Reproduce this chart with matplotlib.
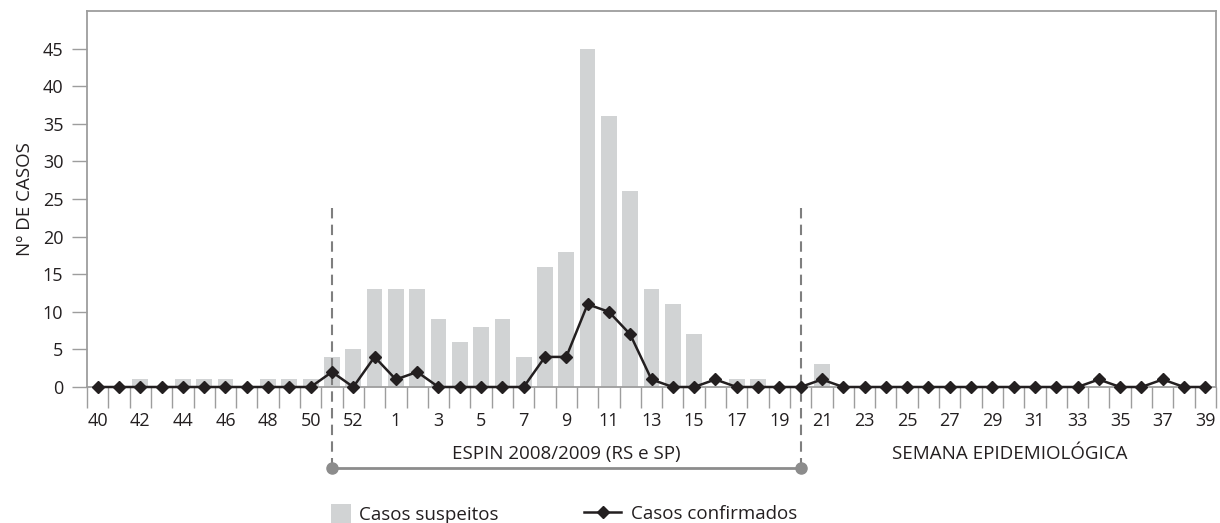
import numpy as np
import matplotlib
matplotlib.use("Agg")
import matplotlib.pyplot as plt
from matplotlib.patches import Patch
from matplotlib.lines import Line2D

plt.rcParams['font.family'] = ['Open Sans', 'DejaVu Sans']

# epidemiological weeks 40/2008 .. 39/2009 (2008 had 53 weeks)
weeks = list(range(40, 54)) + list(range(1, 40))
suspeitos = [0, 0, 1, 0, 1, 1, 1, 0, 1, 1, 1, 4, 5, 13,            # 40-53
             13, 13, 9, 6, 8, 9, 4, 16, 18, 45,                    # 1-10
             36, 26, 13, 11, 7, 0, 1, 1, 0, 0,                     # 11-20
             3, 0, 0, 0, 0, 0, 0, 0, 0, 0,                         # 21-30
             0, 0, 0, 0, 0, 0, 0, 0, 0]                            # 31-39
confirmados = [0, 0, 0, 0, 0, 0, 0, 0, 0, 0, 0, 2, 0, 4,           # 40-53
               1, 2, 0, 0, 0, 0, 0, 4, 4, 11,                      # 1-10
               10, 7, 1, 0, 0, 1, 0, 0, 0, 0,                      # 11-20
               1, 0, 0, 0, 0, 0, 0, 0, 0, 0,                       # 21-30
               0, 0, 0, 1, 0, 0, 1, 0, 0]                          # 31-39
tick_labels = [str(w) for w in weeks]

espin_label = "ESPIN 2008/2009 (RS e SP)"
espin_start = 11   # week 51/2008
espin_end = 33     # week 20/2009

dark = '#231f20'
grey_axis = '#9d9d9d'
bar_col = '#d1d3d4'

fig = plt.figure(figsize=(12.2, 5.23), dpi=100)
ax = fig.add_axes([87/1220, 1 - 387/523, 1129/1220, 376/523])

x = np.arange(len(weeks))
ax.bar(x, suspeitos, width=0.74, color=bar_col, zorder=1)
ax.plot(x, confirmados, color=dark, lw=1.8, marker='D', markersize=6.5,
        markeredgecolor=dark, zorder=4, clip_on=False)

ax.set_xlim(-0.5, len(weeks) - 0.5)
ax.set_ylim(0, 50)
ax.set_yticks(np.arange(0, 50, 5))
ax.tick_params(axis='y', length=11, width=1, color=grey_axis, labelsize=13,
               labelcolor=dark, pad=6)
ax.set_xticks(x[::2])
ax.set_xticklabels(tick_labels[::2])
ax.set_xticks(np.arange(-0.5, len(weeks)), minor=True)
ax.tick_params(axis='x', which='major', length=0, pad=18, labelsize=13, labelcolor=dark)
ax.tick_params(axis='x', which='minor', length=15, width=1, color=grey_axis)
for s in ax.spines.values():
    s.set_color(grey_axis)
    s.set_linewidth(1.3)

ax.set_ylabel("Nº DE CASOS", fontsize=13.5, color=dark, labelpad=6)

# ESPIN period markers
bracket_y = -10.8
for xi in (espin_start, espin_end):
    ax.plot([xi, xi], [23.8, bracket_y], color='#7f7f7f', lw=1.5, ls=(0, (5, 3)),
            clip_on=False, zorder=3)
ax.plot([espin_start, espin_end], [bracket_y, bracket_y], color='#8c8c8c', lw=2,
        clip_on=False, zorder=3)
ax.plot([espin_start, espin_end], [bracket_y, bracket_y], ls='none', marker='o',
        markersize=8, color='#8c8c8c', clip_on=False, zorder=3)
ax.text((espin_start + espin_end) / 2, -8.9, espin_label, ha='center', va='center',
        fontsize=13.5, color=dark, clip_on=False)
ax.text(42.8, -8.9, "SEMANA EPIDEMIOLÓGICA", ha='center', va='center',
        fontsize=13.5, color=dark, clip_on=False)

leg_y = 1 - 514/523
fig.legend([Patch(facecolor=bar_col, edgecolor='none')], ["Casos suspeitos"],
           loc='center left', bbox_to_anchor=(314/1220, leg_y), frameon=False,
           fontsize=13.5, handlelength=1.05, handleheight=1.25, handletextpad=0.45,
           labelcolor=dark)
fig.legend([Line2D([], [], color=dark, lw=1.8, marker='D', markersize=6.5)],
           ["Casos confirmados"], loc='center left',
           bbox_to_anchor=(567/1220, leg_y), frameon=False, fontsize=13.5,
           handlelength=2.0, handletextpad=0.5, labelcolor=dark)

fig.savefig("out.png", dpi=100)
